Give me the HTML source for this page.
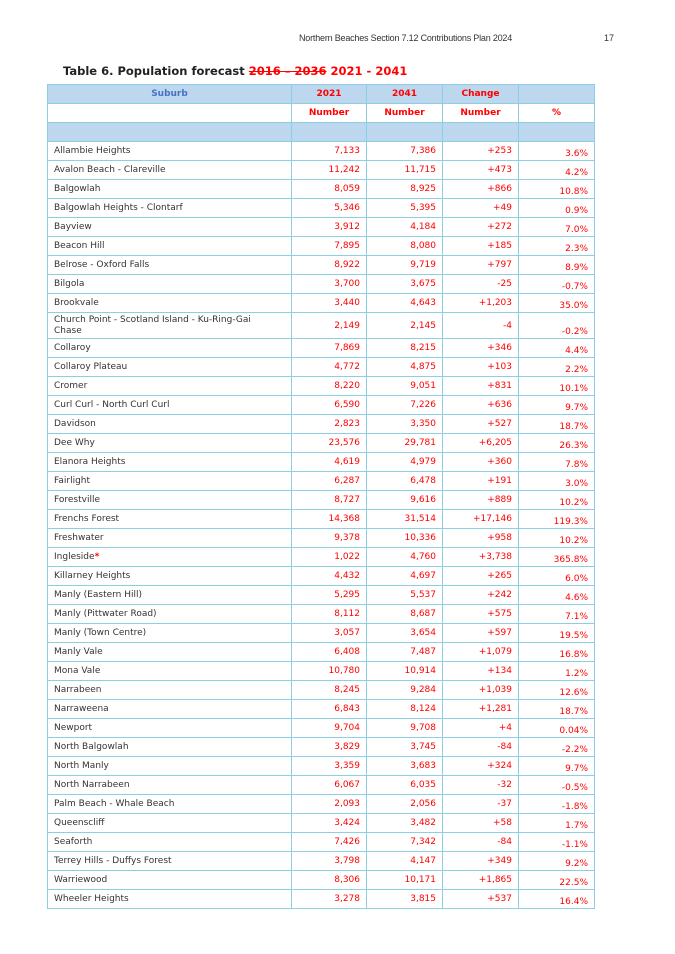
<!DOCTYPE html>
<html>
<head>
<meta charset="utf-8">
<style>
html,body{margin:0;padding:0;background:#fff;}
body{width:675px;height:954px;position:relative;overflow:hidden;font-family:"DejaVu Sans","Liberation Sans",sans-serif;}
.hdr{position:absolute;top:33px;left:299px;font-family:"Liberation Sans",sans-serif;font-size:9px;line-height:11px;letter-spacing:-0.2px;color:#333;white-space:nowrap;}
.pg{position:absolute;top:33px;left:604px;font-family:"Liberation Sans",sans-serif;font-size:9px;line-height:11px;color:#333;}
.title{position:absolute;top:64px;left:63px;font-size:11.5px;line-height:14px;font-weight:bold;color:#222;white-space:nowrap;}
.title .r{color:#ff0000;}
.title s{color:#ff0000;text-decoration:line-through;text-decoration-color:#ff0000;}
.tbl{position:absolute;left:47px;top:84px;width:548px;border-left:1px solid #8ccfe2;border-top:1px solid #8ccfe2;box-sizing:border-box;}
.row{display:flex;height:19px;box-sizing:border-box;border-bottom:1px solid #8ccfe2;}
.row.tall{height:26px;}
.c{box-sizing:border-box;border-right:1px solid #8ccfe2;display:flex;align-items:center;justify-content:flex-end;padding:1px 6px 0 6px;font-size:9px;line-height:11px;color:#ff0000;white-space:nowrap;}
.c1{width:244px;justify-content:flex-start;color:#333;}
.c2{width:75px;}
.c3,.c4,.c5{width:76px;}
.c5{align-items:flex-end;padding-top:0;padding-bottom:0;}
.blue{background:#bdd7ee;}
.h .c{justify-content:center;font-weight:bold;padding:0;}
.h .c1{color:#4472c4;}
.h .c5{align-items:center;}
.ast{color:#ff0000;font-weight:bold;}
</style>
</head>
<body>
<div class="hdr">Northern Beaches Section 7.12 Contributions Plan 2024</div>
<div class="pg">17</div>
<div class="title">Table 6. Population forecast <s>2016 &ndash; 2036</s><span class="r"> 2021 - 2041</span></div>

<div class="tbl">
  <div class="row h blue"><div class="c c1">Suburb</div><div class="c c2">2021</div><div class="c c3">2041</div><div class="c c4">Change</div><div class="c c5"></div></div>
  <div class="row h"><div class="c c1"></div><div class="c c2">Number</div><div class="c c3">Number</div><div class="c c4">Number</div><div class="c c5">%</div></div>
  <div class="row h blue"><div class="c c1"></div><div class="c c2"></div><div class="c c3"></div><div class="c c4"></div><div class="c c5"></div></div>

  <div class="row"><div class="c c1">Allambie Heights</div><div class="c c2">7,133</div><div class="c c3">7,386</div><div class="c c4">+253</div><div class="c c5">3.6%</div></div>
  <div class="row"><div class="c c1">Avalon Beach - Clareville</div><div class="c c2">11,242</div><div class="c c3">11,715</div><div class="c c4">+473</div><div class="c c5">4.2%</div></div>
  <div class="row"><div class="c c1">Balgowlah</div><div class="c c2">8,059</div><div class="c c3">8,925</div><div class="c c4">+866</div><div class="c c5">10.8%</div></div>
  <div class="row"><div class="c c1">Balgowlah Heights - Clontarf</div><div class="c c2">5,346</div><div class="c c3">5,395</div><div class="c c4">+49</div><div class="c c5">0.9%</div></div>
  <div class="row"><div class="c c1">Bayview</div><div class="c c2">3,912</div><div class="c c3">4,184</div><div class="c c4">+272</div><div class="c c5">7.0%</div></div>
  <div class="row"><div class="c c1">Beacon Hill</div><div class="c c2">7,895</div><div class="c c3">8,080</div><div class="c c4">+185</div><div class="c c5">2.3%</div></div>
  <div class="row"><div class="c c1">Belrose - Oxford Falls</div><div class="c c2">8,922</div><div class="c c3">9,719</div><div class="c c4">+797</div><div class="c c5">8.9%</div></div>
  <div class="row"><div class="c c1">Bilgola</div><div class="c c2">3,700</div><div class="c c3">3,675</div><div class="c c4">-25</div><div class="c c5">-0.7%</div></div>
  <div class="row"><div class="c c1">Brookvale</div><div class="c c2">3,440</div><div class="c c3">4,643</div><div class="c c4">+1,203</div><div class="c c5">35.0%</div></div>
  <div class="row tall"><div class="c c1"><span>Church Point - Scotland Island - Ku-Ring-Gai<br>Chase</span></div><div class="c c2">2,149</div><div class="c c3">2,145</div><div class="c c4">-4</div><div class="c c5">-0.2%</div></div>
  <div class="row"><div class="c c1">Collaroy</div><div class="c c2">7,869</div><div class="c c3">8,215</div><div class="c c4">+346</div><div class="c c5">4.4%</div></div>
  <div class="row"><div class="c c1">Collaroy Plateau</div><div class="c c2">4,772</div><div class="c c3">4,875</div><div class="c c4">+103</div><div class="c c5">2.2%</div></div>
  <div class="row"><div class="c c1">Cromer</div><div class="c c2">8,220</div><div class="c c3">9,051</div><div class="c c4">+831</div><div class="c c5">10.1%</div></div>
  <div class="row"><div class="c c1">Curl Curl - North Curl Curl</div><div class="c c2">6,590</div><div class="c c3">7,226</div><div class="c c4">+636</div><div class="c c5">9.7%</div></div>
  <div class="row"><div class="c c1">Davidson</div><div class="c c2">2,823</div><div class="c c3">3,350</div><div class="c c4">+527</div><div class="c c5">18.7%</div></div>
  <div class="row"><div class="c c1">Dee Why</div><div class="c c2">23,576</div><div class="c c3">29,781</div><div class="c c4">+6,205</div><div class="c c5">26.3%</div></div>
  <div class="row"><div class="c c1">Elanora Heights</div><div class="c c2">4,619</div><div class="c c3">4,979</div><div class="c c4">+360</div><div class="c c5">7.8%</div></div>
  <div class="row"><div class="c c1">Fairlight</div><div class="c c2">6,287</div><div class="c c3">6,478</div><div class="c c4">+191</div><div class="c c5">3.0%</div></div>
  <div class="row"><div class="c c1">Forestville</div><div class="c c2">8,727</div><div class="c c3">9,616</div><div class="c c4">+889</div><div class="c c5">10.2%</div></div>
  <div class="row"><div class="c c1">Frenchs Forest</div><div class="c c2">14,368</div><div class="c c3">31,514</div><div class="c c4">+17,146</div><div class="c c5">119.3%</div></div>
  <div class="row"><div class="c c1">Freshwater</div><div class="c c2">9,378</div><div class="c c3">10,336</div><div class="c c4">+958</div><div class="c c5">10.2%</div></div>
  <div class="row"><div class="c c1"><span>Ingleside<span class="ast">*</span></span></div><div class="c c2">1,022</div><div class="c c3">4,760</div><div class="c c4">+3,738</div><div class="c c5">365.8%</div></div>
  <div class="row"><div class="c c1">Killarney Heights</div><div class="c c2">4,432</div><div class="c c3">4,697</div><div class="c c4">+265</div><div class="c c5">6.0%</div></div>
  <div class="row"><div class="c c1">Manly (Eastern Hill)</div><div class="c c2">5,295</div><div class="c c3">5,537</div><div class="c c4">+242</div><div class="c c5">4.6%</div></div>
  <div class="row"><div class="c c1">Manly (Pittwater Road)</div><div class="c c2">8,112</div><div class="c c3">8,687</div><div class="c c4">+575</div><div class="c c5">7.1%</div></div>
  <div class="row"><div class="c c1">Manly (Town Centre)</div><div class="c c2">3,057</div><div class="c c3">3,654</div><div class="c c4">+597</div><div class="c c5">19.5%</div></div>
  <div class="row"><div class="c c1">Manly Vale</div><div class="c c2">6,408</div><div class="c c3">7,487</div><div class="c c4">+1,079</div><div class="c c5">16.8%</div></div>
  <div class="row"><div class="c c1">Mona Vale</div><div class="c c2">10,780</div><div class="c c3">10,914</div><div class="c c4">+134</div><div class="c c5">1.2%</div></div>
  <div class="row"><div class="c c1">Narrabeen</div><div class="c c2">8,245</div><div class="c c3">9,284</div><div class="c c4">+1,039</div><div class="c c5">12.6%</div></div>
  <div class="row"><div class="c c1">Narraweena</div><div class="c c2">6,843</div><div class="c c3">8,124</div><div class="c c4">+1,281</div><div class="c c5">18.7%</div></div>
  <div class="row"><div class="c c1">Newport</div><div class="c c2">9,704</div><div class="c c3">9,708</div><div class="c c4">+4</div><div class="c c5">0.04%</div></div>
  <div class="row"><div class="c c1">North Balgowlah</div><div class="c c2">3,829</div><div class="c c3">3,745</div><div class="c c4">-84</div><div class="c c5">-2.2%</div></div>
  <div class="row"><div class="c c1">North Manly</div><div class="c c2">3,359</div><div class="c c3">3,683</div><div class="c c4">+324</div><div class="c c5">9.7%</div></div>
  <div class="row"><div class="c c1">North Narrabeen</div><div class="c c2">6,067</div><div class="c c3">6,035</div><div class="c c4">-32</div><div class="c c5">-0.5%</div></div>
  <div class="row"><div class="c c1">Palm Beach - Whale Beach</div><div class="c c2">2,093</div><div class="c c3">2,056</div><div class="c c4">-37</div><div class="c c5">-1.8%</div></div>
  <div class="row"><div class="c c1">Queenscliff</div><div class="c c2">3,424</div><div class="c c3">3,482</div><div class="c c4">+58</div><div class="c c5">1.7%</div></div>
  <div class="row"><div class="c c1">Seaforth</div><div class="c c2">7,426</div><div class="c c3">7,342</div><div class="c c4">-84</div><div class="c c5">-1.1%</div></div>
  <div class="row"><div class="c c1">Terrey Hills - Duffys Forest</div><div class="c c2">3,798</div><div class="c c3">4,147</div><div class="c c4">+349</div><div class="c c5">9.2%</div></div>
  <div class="row"><div class="c c1">Warriewood</div><div class="c c2">8,306</div><div class="c c3">10,171</div><div class="c c4">+1,865</div><div class="c c5">22.5%</div></div>
  <div class="row"><div class="c c1">Wheeler Heights</div><div class="c c2">3,278</div><div class="c c3">3,815</div><div class="c c4">+537</div><div class="c c5">16.4%</div></div>
</div>
</body>
</html>
